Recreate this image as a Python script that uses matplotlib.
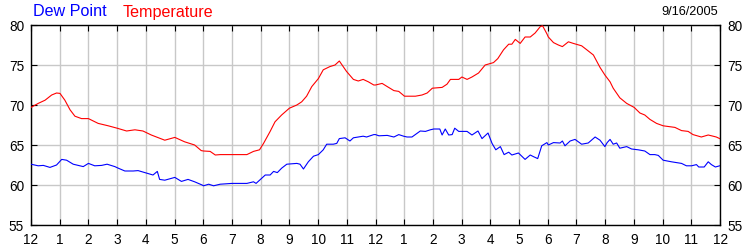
import matplotlib
matplotlib.use("Agg")
import matplotlib.pyplot as plt

plt.rcParams['font.family'] = ['Liberation Sans', 'DejaVu Sans']

temp_hours = [0.00, 0.25, 0.49, 0.72, 0.89, 1.01, 1.18, 1.36, 1.53, 1.76, 2.00, 2.34, 2.69, 3.00,
              3.33, 3.62, 3.90, 4.19, 4.66, 5.01, 5.35, 5.70, 5.93,
              6.01, 6.24, 6.42, 6.59, 7.00, 7.52, 7.75, 7.96, 8.10, 8.33, 8.50, 8.73, 9.00, 9.26,
              9.43, 9.60, 9.78, 10.01, 10.18, 10.41, 10.59, 10.74, 10.99, 11.23, 11.40, 11.57,
              11.75, 11.94,
              12.00, 12.23, 12.41, 12.64, 12.81, 13.01, 13.39, 13.62, 13.80, 13.98, 14.32, 14.49,
              14.61, 14.90, 15.01, 15.19, 15.36, 15.59, 15.82, 16.11, 16.26, 16.46, 16.64, 16.75,
              16.87, 17.04, 17.21, 17.39, 17.56, 17.74, 17.82, 17.97,
              18.02, 18.20, 18.37, 18.51, 18.72, 18.89, 19.18, 19.36, 19.59, 19.82, 19.99, 20.17,
              20.28, 20.51, 20.75, 21.01, 21.21, 21.38, 21.56, 21.79, 22.02, 22.43, 22.66, 22.89,
              23.06, 23.35, 23.59, 23.76, 23.87, 23.99]
temp_values = [69.7, 70.2, 70.6, 71.25, 71.5, 71.45, 70.6, 69.4, 68.6, 68.3, 68.3, 67.7, 67.4, 67.1,
               66.75, 66.9, 66.75, 66.25, 65.6, 65.95, 65.4, 65.0, 64.3,
               64.25, 64.2, 63.75, 63.8, 63.8, 63.8, 64.2, 64.4, 65.2, 66.7, 67.9, 68.75, 69.6, 70.0,
               70.4, 71.1, 72.3, 73.3, 74.4, 74.8, 75.0, 75.5, 74.2, 73.2, 73.0, 73.2,
               72.9, 72.5,
               72.5, 72.7, 72.3, 71.8, 71.7, 71.1, 71.1, 71.25, 71.5, 72.1, 72.2, 72.6,
               73.2, 73.2, 73.5, 73.2, 73.5, 74.0, 75.0, 75.3, 75.8, 76.9, 77.6, 77.6,
               78.2, 77.7, 78.5, 78.5, 79.0, 79.8, 79.9, 78.9,
               78.5, 77.8, 77.5, 77.3, 77.9, 77.7, 77.4, 76.9, 76.25, 74.7, 73.75, 72.9,
               72.1, 70.9, 70.2, 69.7, 69.0, 68.75, 68.2, 67.7, 67.4, 67.2, 66.8, 66.7,
               66.3, 66.0, 66.25, 66.1, 66.0, 65.8]

dew_hours = [0.00, 0.25, 0.43, 0.66, 0.89, 1.07, 1.24, 1.47, 1.82, 2.00, 2.22, 2.46, 2.65, 2.92,
             3.04, 3.27, 3.56, 3.73, 4.02, 4.25, 4.40, 4.48, 4.66, 5.01, 5.24, 5.47, 5.70, 5.96,
             6.01, 6.19, 6.36, 6.59, 7.00, 7.52, 7.75, 7.84, 7.99, 8.16, 8.33, 8.45, 8.58, 8.73,
             8.91, 9.26, 9.37, 9.49, 9.66, 9.84, 10.01, 10.18, 10.30, 10.53, 10.65, 10.74, 10.94,
             11.11, 11.23, 11.40, 11.57, 11.69, 11.94,
             12.00, 12.12, 12.41, 12.64, 12.81, 12.98, 13.10, 13.27, 13.56, 13.74, 13.91, 14.03,
             14.24, 14.32, 14.43, 14.55, 14.67, 14.76, 14.90, 15.19, 15.36, 15.57, 15.71, 15.92,
             16.06, 16.19, 16.35, 16.48, 16.64, 16.75, 16.98, 17.21, 17.39, 17.50, 17.65, 17.79,
             17.97,
             18.02, 18.20, 18.43, 18.51, 18.60, 18.78, 18.95, 19.18, 19.41, 19.65, 19.82, 19.99,
             20.07, 20.17, 20.28, 20.40, 20.51, 20.75, 20.92, 21.15, 21.38, 21.56, 21.73, 21.85,
             22.02, 22.31, 22.66, 22.83, 23.01, 23.18, 23.26, 23.45, 23.59, 23.70, 23.84, 23.99]
dew_values = [62.6, 62.4, 62.45, 62.2, 62.5, 63.2, 63.1, 62.6, 62.3, 62.7, 62.4, 62.45, 62.6, 62.3,
              62.1, 61.75, 61.75, 61.8, 61.5, 61.25, 61.7, 60.7, 60.6, 60.95, 60.45, 60.7, 60.4, 60.0,
              59.9, 60.1, 59.9, 60.1, 60.2, 60.2, 60.4, 60.2, 60.7, 61.25, 61.25, 61.7, 61.55, 62.1,
              62.6, 62.7, 62.6, 62.0, 62.9, 63.6, 63.8, 64.4, 65.1, 65.1, 65.2, 65.8, 65.9,
              65.5, 65.9, 66.0, 66.1, 66.0, 66.3,
              66.3, 66.15, 66.2, 66.0, 66.3, 66.1, 66.0, 66.0, 66.75, 66.7, 66.9, 67.0,
              67.0, 66.25, 67.0, 66.25, 66.3, 67.1, 66.7, 66.7, 66.25, 66.75, 65.8, 66.5,
              65.2, 64.4, 64.8, 63.8, 64.1, 63.75, 64.0, 63.2, 63.75, 63.55, 63.3, 64.9,
              65.3,
              65.0, 65.3, 65.25, 65.5, 64.9, 65.5, 65.7, 65.1, 65.25, 66.0, 65.6, 64.8,
              65.3, 65.7, 65.1, 65.25, 64.6, 64.8, 64.5, 64.4, 64.25, 63.8, 63.8, 63.7,
              63.1, 62.9, 62.7, 62.4, 62.4, 62.55, 62.25, 62.25, 62.9, 62.55, 62.25, 62.4]

x_ticks = list(range(0, 25))
x_tick_labels = ['12', '1', '2', '3', '4', '5', '6', '7', '8', '9', '10', '11',
                 '12', '1', '2', '3', '4', '5', '6', '7', '8', '9', '10', '11', '12']
y_ticks = [55, 60, 65, 70, 75, 80]
date_label = '9/16/2005'

fig = plt.figure(figsize=(7.5, 2.5), dpi=100)
ax = fig.add_axes([31 / 750, 0.1, 689 / 750, 0.8])

ax.plot(dew_hours, dew_values, color='#0000ff', lw=0.8, zorder=3)
ax.plot(temp_hours, temp_values, color='#ff0000', lw=0.8, zorder=3)

ax.set_xlim(0, 24)
ax.set_ylim(55, 80)
ax.set_xticks(x_ticks)
ax.set_xticklabels(x_tick_labels)
ax.set_yticks(y_ticks)
ax.grid(True, color='#c8c8c8', lw=1.0, zorder=0)
ax.set_axisbelow(True)
ax.tick_params(axis='both', direction='in', length=4, width=0.8, color='black',
               labelsize=9.8, top=True, right=True, labelright=True, pad=5)
ax.tick_params(axis='x', pad=6)
for s in ax.spines.values():
    s.set_linewidth(1.0)
    s.set_color('black')

fig.text(33 / 750, 1 - 12 / 250, 'Dew Point', color='#0000ff', fontsize=11.6, va='center', ha='left')
fig.text(123 / 750, 1 - 12 / 250, 'Temperature', color='#ff0000', fontsize=11.6, va='center', ha='left')
fig.text(718 / 750, 1 - 12 / 250, date_label, color='black', fontsize=9.2, va='center', ha='right')

fig.savefig('out.png', dpi=100)
